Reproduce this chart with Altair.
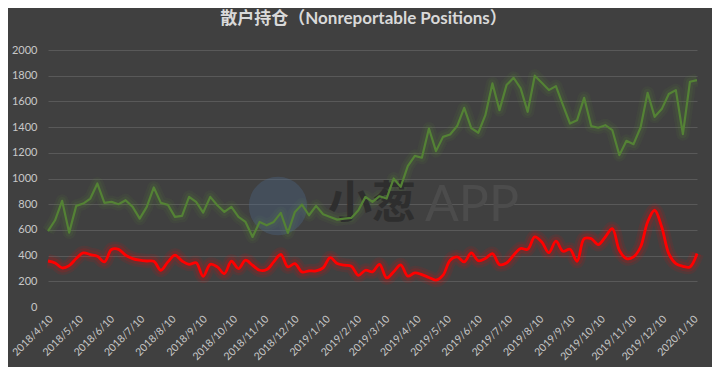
import altair as alt
import pandas as pd

start_date = "2018-04-10"
n_weeks = 93

green_vals = [590, 675, 826, 579, 787, 805, 844, 961, 810, 818, 800, 831, 779, 688, 779, 930,
              810, 795, 701, 709, 857, 818, 735, 857, 792, 740, 779, 701, 662, 545, 662, 636,
              662, 732, 577, 740, 797, 714, 787, 722, 701, 680, 688, 693, 753, 857, 818, 862,
              844, 1000, 935, 1096, 1176, 1161, 1389, 1213, 1324, 1343, 1408, 1550, 1392, 1356,
              1493, 1740, 1532, 1727, 1784, 1701, 1519, 1800, 1745, 1688, 1719, 1571, 1428, 1454,
              1628, 1408, 1395, 1415, 1376, 1182, 1293, 1267, 1397, 1667, 1480, 1540, 1657, 1688,
              1345, 1753, 1766]

red_vals = [358, 343, 304, 322, 377, 421, 408, 395, 351, 447, 449, 403, 377, 364, 358, 356,
            286, 351, 403, 358, 332, 345, 239, 332, 312, 260, 356, 299, 364, 325, 286, 291,
            351, 410, 312, 338, 273, 281, 281, 304, 384, 338, 325, 317, 247, 286, 274, 332,
            226, 274, 328, 240, 266, 252, 230, 209, 248, 364, 390, 351, 421, 360,
            377, 416, 330, 343, 403, 455, 449, 545, 506, 423, 512, 434, 449, 356,
            532, 532, 486, 545, 610, 441, 377, 390, 467, 662, 753, 623, 416, 338,
            317, 312, 416]

tick_labels = ["2018/4/10", "2018/5/10", "2018/6/10", "2018/7/10", "2018/8/10", "2018/9/10",
               "2018/10/10", "2018/11/10", "2018/12/10", "2019/1/10", "2019/2/10", "2019/3/10",
               "2019/4/10", "2019/5/10", "2019/6/10", "2019/7/10", "2019/8/10", "2019/9/10",
               "2019/10/10", "2019/11/10", "2019/12/10", "2020/1/10"]

y_ticks = [0, 200, 400, 600, 800, 1000, 1200, 1400, 1600, 1800, 2000]

dates = pd.date_range(start_date, periods=n_weeks, freq="7D")
df = pd.DataFrame({
    "date": [d.strftime("%Y-%m-%dT00:00:00") for d in dates],
    "green": green_vals,
    "red": red_vals,
})

tick_values = []
for t in tick_labels:
    yy, mm, dd = t.split("/")
    tick_values.append(alt.DateTime(year=int(yy), month=int(mm), date=int(dd)))

BG = "#404040"
LBL = "#c8c8c8"
GRID = "#595959"
GREEN = "#548235"
RED = "#ff0000"

x_enc = alt.X(
    "date:T",
    scale=alt.Scale(domain=[alt.DateTime(year=2018, month=4, date=10),
                            alt.DateTime(year=2020, month=1, date=14)], nice=False),
    axis=alt.Axis(values=tick_values, format="%Y/%-m/%-d", labelAngle=-45, labelAlign="right",
                  labelBaseline="middle", labelPadding=10, labelOffset=3, ticks=False,
                  domain=False, grid=False, labelColor=LBL, labelFontSize=10.5, labelFont="Lato",
                  title=None, labelOverlap=False),
)

y_axis = alt.Axis(values=y_ticks, format="d", ticks=False, domain=False, grid=True,
                  gridColor=GRID, gridWidth=1,
                  gridOpacity={"condition": {"test": "datum.value === 0", "value": 0}, "value": 1},
                  labelColor=LBL, labelFontSize=11, labelFont="Lato", labelPadding=11,
                  title=None)
y_scale = alt.Scale(domain=[0, 2000], nice=False)


def y_enc(field):
    return alt.Y(field + ":Q", scale=y_scale, axis=y_axis)


base = alt.Chart(df)

layers = []
for w, op in [(13, 0.09), (8, 0.14)]:
    layers.append(base.mark_line(color=GREEN, strokeWidth=w, opacity=op, strokeJoin="round")
                  .encode(x=x_enc, y=y_enc("green")))
    layers.append(base.mark_line(color=RED, strokeWidth=w + 1, opacity=op,
                                 interpolate="catmull-rom", strokeJoin="round")
                  .encode(x=x_enc, y=y_enc("red")))

one = pd.DataFrame({"a": [0]})
watermark = [
    alt.Chart(one).mark_circle(color="#4d6b8c", opacity=0.35, size=3400)
    .encode(x=alt.value(230), y=alt.value(156)),
    alt.Chart(one).mark_text(text="小葱", font="Noto Sans CJK SC", fontSize=44, fontWeight="bold",
                             color="#2e2e2e", align="left", baseline="middle")
    .encode(x=alt.value(280), y=alt.value(155)),
    alt.Chart(one).mark_text(text="APP", font="Lato", fontSize=50, color="#4c4c4c",
                             align="left", baseline="middle")
    .encode(x=alt.value(377), y=alt.value(156)),
]

lines = [
    base.mark_line(color=GREEN, strokeWidth=2.2, strokeJoin="round").encode(x=x_enc, y=y_enc("green")),
    base.mark_line(color=RED, strokeWidth=2.8, interpolate="catmull-rom").encode(x=x_enc, y=y_enc("red")),
]

chart = alt.layer(*layers, *watermark, *lines).properties(
    width=649,
    height=257,
    background=BG,
    padding={"left": 40, "top": 42, "right": 15, "bottom": 60},
    autosize=alt.AutoSizeParams(type="none"),
    title=alt.TitleParams("散户持仓（Nonreportable Positions）", font="Lato, Noto Sans CJK SC",
                          fontSize=17, fontWeight="bold", color="#d9d9d9", anchor="middle",
                          dx=-9, offset=16),
).configure_view(stroke=None)

chart.save("out.html", embed_options={"renderer": "svg", "actions": False})
